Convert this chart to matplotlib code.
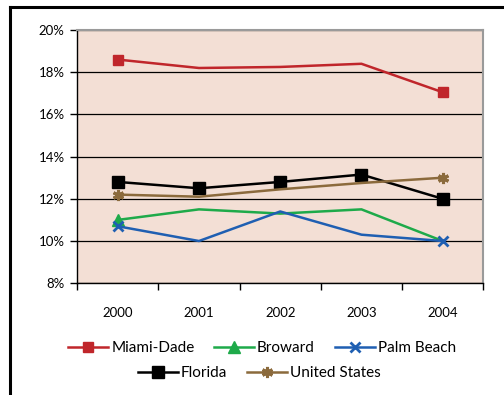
import matplotlib.pyplot as plt
from matplotlib.lines import Line2D
from matplotlib.ticker import FuncFormatter

years = ["2000", "2001", "2002", "2003", "2004"]
miami_dade = [18.6, 18.2, 18.25, 18.4, 17.05]
broward = [11.0, 11.5, 11.3, 11.5, 10.0]
palm_beach = [10.7, 10.0, 11.4, 10.3, 10.0]
florida = [12.8, 12.5, 12.8, 13.15, 12.0]
united_states = [12.2, 12.1, 12.45, 12.75, 13.0]

plt.rcParams["font.family"] = ["Lato", "DejaVu Sans"]

fig = plt.figure(figsize=(5.04, 3.95), dpi=100)
ax = fig.add_axes([0.153, 0.283, 0.806, 0.641])
ax.set_facecolor("#F3DFD5")

styles = {
    "Miami-Dade": dict(color="#C0262B", marker="s", ms=7.5),
    "Broward": dict(color="#1EAA4A", marker="^", ms=8),
    "Palm Beach": dict(color="#1F5FB2", marker="x", ms=7, mew=2),
    "Florida": dict(color="black", marker="s", ms=8.5),
    "United States": dict(color="#8B6A3C", marker=(6, 2, 0), ms=8, mew=2.2),
}

x = range(len(years))
ends = [0, len(years) - 1]
ax.plot(x, miami_dade, lw=1.8, markevery=ends, **styles["Miami-Dade"])
ax.plot(x, broward, lw=1.8, markevery=[0], **styles["Broward"])
ax.plot(x, palm_beach, lw=1.8, markevery=ends, **styles["Palm Beach"])
ax.plot(x, florida, lw=1.8, **styles["Florida"])
ax.plot(x, united_states, lw=1.8, markevery=ends, **styles["United States"])

ax.set_xlim(-0.5, 4.5)
ax.set_ylim(8, 20)
ax.set_yticks(range(8, 21, 2))
ax.yaxis.set_major_formatter(FuncFormatter(lambda v, p: f"{v:.0f}%"))
ax.grid(axis="y", color="black", lw=0.9)
ax.set_axisbelow(True)

ax.set_xticks(list(x))
ax.set_xticklabels(years)
ax.set_xticks([i - 0.5 for i in range(len(years) + 1)], minor=True)
ax.tick_params(axis="x", which="major", length=0, pad=17, labelsize=9.5)
ax.tick_params(axis="x", which="minor", length=5, width=1, direction="out")
ax.tick_params(axis="y", length=5, width=1, pad=4, labelsize=9.5)

for side in ["top", "right"]:
    ax.spines[side].set_color("#9A9A9A")
    ax.spines[side].set_linewidth(1.5)
for side in ["left", "bottom"]:
    ax.spines[side].set_color("black")
    ax.spines[side].set_linewidth(1)

# legend entries as plain line-with-one-marker handles, two centred rows
def handle(name):
    return Line2D([], [], lw=1.8, label=name, **styles[name])

leg_kw = dict(loc="center", frameon=False, fontsize=11, handlelength=2.6,
              handletextpad=0.2, columnspacing=1.3, borderaxespad=0, numpoints=1)
fig.legend(handles=[handle(n) for n in ["Miami-Dade", "Broward", "Palm Beach"]],
           bbox_to_anchor=(0.52, 0.118), ncol=3, **leg_kw)
fig.legend(handles=[handle(n) for n in ["Florida", "United States"]],
           bbox_to_anchor=(0.515, 0.055), ncol=2, **leg_kw)

# outer frame on the left and top
fig.add_artist(Line2D([0.02, 0.02], [0, 0.982], color="black", lw=2.2, transform=fig.transFigure))
fig.add_artist(Line2D([0.02, 1.0], [0.982, 0.982], color="black", lw=2.2, transform=fig.transFigure))

fig.savefig("out.png", dpi=100)
